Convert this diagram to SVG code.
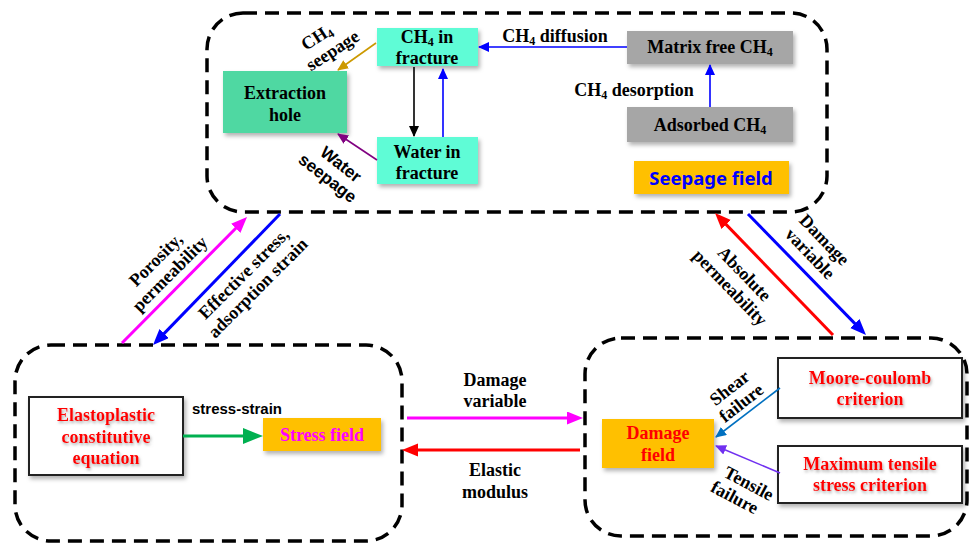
<svg xmlns="http://www.w3.org/2000/svg" width="973" height="544" viewBox="0 0 973 544">
<style>
.frame{fill:none;stroke:#000;stroke-width:3.5;stroke-dasharray:14 8}
.t{font-family:"Liberation Serif","Times New Roman",serif;font-weight:bold;font-size:18px;text-anchor:middle;fill:#000}
.s{font-family:"Liberation Sans",Arial,sans-serif;font-weight:bold;text-anchor:middle;fill:#000}
.red{fill:#FF0000}
.sub{font-size:12px}
.wbox{fill:#fff;stroke:#222;stroke-width:2}
.org{fill:#FFC000}
.aq{fill:#5EFCD6}
.gr{fill:#A6A6A6}
</style>
<defs>
<filter id="sh" x="-20%" y="-20%" width="140%" height="150%"><feDropShadow dx="2" dy="3" stdDeviation="2" flood-color="#000" flood-opacity="0.3"/></filter>
<filter id="glow" x="-10%" y="-30%" width="120%" height="170%"><feDropShadow dx="1" dy="2" stdDeviation="1.5" flood-color="#777" flood-opacity="0.6"/></filter>
<marker id="aBlueS" markerUnits="userSpaceOnUse" markerWidth="12" markerHeight="12" refX="10" refY="5" orient="auto"><path d="M0,0 L11,5 L0,10 z" fill="#0000FF"/></marker>
<marker id="aBlackS" markerUnits="userSpaceOnUse" markerWidth="12" markerHeight="12" refX="10" refY="5" orient="auto"><path d="M0,0 L11,5 L0,10 z" fill="#000"/></marker>
<marker id="aGold" markerUnits="userSpaceOnUse" markerWidth="12" markerHeight="12" refX="10" refY="5" orient="auto"><path d="M0,0 L11,5 L0,10 z" fill="#CC9900"/></marker>
<marker id="aPurp" markerUnits="userSpaceOnUse" markerWidth="12" markerHeight="12" refX="10" refY="5" orient="auto"><path d="M0,0 L11,5 L0,10 z" fill="#800080"/></marker>
<marker id="aShear" markerUnits="userSpaceOnUse" markerWidth="12" markerHeight="12" refX="10" refY="5" orient="auto"><path d="M0,0 L11,5 L0,10 z" fill="#0070C0"/></marker>
<marker id="aTens" markerUnits="userSpaceOnUse" markerWidth="12" markerHeight="12" refX="10" refY="5" orient="auto"><path d="M0,0 L11,5 L0,10 z" fill="#7030F0"/></marker>
<marker id="aMag" markerUnits="userSpaceOnUse" markerWidth="18" markerHeight="14" refX="11" refY="6.5" orient="auto"><path d="M0,0 L16,6.5 L0,13 z" fill="#FF00FF"/></marker>
<marker id="aRed" markerUnits="userSpaceOnUse" markerWidth="18" markerHeight="14" refX="11" refY="6.5" orient="auto"><path d="M0,0 L16,6.5 L0,13 z" fill="#FF0000"/></marker>
<marker id="aBlue" markerUnits="userSpaceOnUse" markerWidth="18" markerHeight="14" refX="11" refY="6.5" orient="auto"><path d="M0,0 L16,6.5 L0,13 z" fill="#0000FF"/></marker>
<marker id="aGreen" markerUnits="userSpaceOnUse" markerWidth="22" markerHeight="18" refX="14" refY="8" orient="auto"><path d="M0,0 L20,8 L0,16 z" fill="#00B050"/></marker>
</defs>

<!-- frames -->
<g id="seepage-frame"><rect class="frame" x="207" y="13" width="620" height="199" rx="36"/></g>
<g id="stress-frame"><rect class="frame" x="15" y="345" width="387" height="196" rx="36"/></g>
<g id="damage-frame"><rect class="frame" x="585" y="338" width="382" height="198" rx="36"/></g>

<!-- top nodes -->
<g id="extraction-hole"><rect x="223" y="71" width="124" height="62" fill="#4FD8A2" filter="url(#sh)"/><text class="t" x="285" y="99">Extraction</text><text class="t" x="285" y="121">hole</text></g>
<g id="ch4-fracture"><rect class="aq" x="377" y="28" width="101" height="38" filter="url(#sh)"/><text class="t" x="427" y="43">CH<tspan class="sub" dy="3">4</tspan><tspan dy="-3"> in</tspan></text><text class="t" x="427" y="64">fracture</text></g>
<g id="water-fracture"><rect class="aq" x="377" y="137" width="101" height="47" filter="url(#sh)"/><text class="t" x="427" y="158">Water in</text><text class="t" x="427" y="179">fracture</text></g>
<g id="matrix-free"><rect class="gr" x="627" y="31" width="166" height="33" filter="url(#sh)"/><text class="t" x="710" y="53">Matrix free CH<tspan class="sub" dy="3">4</tspan></text></g>
<g id="adsorbed"><rect class="gr" x="627" y="107" width="166" height="35" filter="url(#sh)"/><text class="t" x="710" y="131">Adsorbed CH<tspan class="sub" dy="3">4</tspan></text></g>
<g id="seepage-field"><rect class="org" x="634" y="161" width="155" height="33" filter="url(#sh)"/><text x="711" y="185" style="font-family:'Noto Sans','Open Sans',sans-serif;font-weight:bold;font-size:18.5px;text-anchor:middle;fill:#0000FF">Seepage field</text></g>

<!-- bottom-left nodes -->
<g id="elastoplastic"><rect class="wbox" x="29" y="397" width="154" height="78" filter="url(#sh)"/><g filter="url(#glow)"><text class="t red" x="106" y="421">Elastoplastic</text><text class="t red" x="106" y="443">constitutive</text><text class="t red" x="106" y="464">equation</text></g></g>
<g id="stress-field"><rect class="org" x="263" y="418" width="118" height="33" filter="url(#sh)"/><text class="t" x="322" y="441" style="fill:#FF00FF">Stress field</text></g>

<!-- bottom-right nodes -->
<g id="damage-field"><rect class="org" x="602" y="419" width="112" height="49" filter="url(#sh)"/><text class="t red" x="658" y="439">Damage</text><text class="t red" x="658" y="461">field</text></g>
<g id="moore-coulomb"><rect class="wbox" x="778" y="358" width="184" height="60" filter="url(#sh)"/><g filter="url(#glow)"><text class="t red" x="870" y="384">Moore-coulomb</text><text class="t red" x="870" y="405">criterion</text></g></g>
<g id="max-tensile"><rect class="wbox" x="778" y="446" width="184" height="57" filter="url(#sh)"/><g filter="url(#glow)"><text class="t red" x="870" y="470">Maximum tensile</text><text class="t red" x="870" y="491">stress criterion</text></g></g>

<!-- connectors -->
<g id="connectors" fill="none">
<line x1="627" y1="47" x2="479" y2="47" stroke="#0000FF" stroke-width="1.6" marker-end="url(#aBlueS)"/>
<line x1="710" y1="107" x2="710" y2="65" stroke="#0000FF" stroke-width="1.6" marker-end="url(#aBlueS)"/>
<line x1="414" y1="67" x2="414" y2="136" stroke="#000" stroke-width="1.6" marker-end="url(#aBlackS)"/>
<line x1="443" y1="137" x2="443" y2="69" stroke="#0000FF" stroke-width="1.6" marker-end="url(#aBlueS)"/>
<line x1="376" y1="43" x2="338" y2="70" stroke="#CC9900" stroke-width="1.6" marker-end="url(#aGold)"/>
<line x1="377" y1="160" x2="338" y2="134" stroke="#800080" stroke-width="1.6" marker-end="url(#aPurp)"/>
<line x1="122" y1="343" x2="243.5" y2="220.5" stroke="#FF00FF" stroke-width="3" marker-end="url(#aMag)"/>
<line x1="280" y1="214" x2="156.5" y2="341.4" stroke="#0000FF" stroke-width="3" marker-end="url(#aBlue)"/>
<line x1="833" y1="335" x2="718.5" y2="216.6" stroke="#FF0000" stroke-width="3" marker-end="url(#aRed)"/>
<line x1="748" y1="214" x2="862.5" y2="331.4" stroke="#0000FF" stroke-width="3" marker-end="url(#aBlue)"/>
<line x1="407" y1="418" x2="578" y2="418" stroke="#FF00FF" stroke-width="3" marker-end="url(#aMag)"/>
<line x1="580" y1="450" x2="407" y2="450" stroke="#FF0000" stroke-width="3" marker-end="url(#aRed)"/>
<line x1="183" y1="436" x2="257" y2="436" stroke="#00B050" stroke-width="3" marker-end="url(#aGreen)"/>
<line x1="780" y1="388" x2="716" y2="437" stroke="#0070C0" stroke-width="1.6" marker-end="url(#aShear)"/>
<line x1="780" y1="473" x2="716" y2="446" stroke="#7030F0" stroke-width="1.6" marker-end="url(#aTens)"/>
</g>

<!-- labels -->
<g id="labels">
<text class="t" x="555" y="42">CH<tspan class="sub" dy="3">4</tspan><tspan dy="-3"> diffusion</tspan></text>
<text class="t" x="634" y="96">CH<tspan class="sub" dy="3">4</tspan><tspan dy="-3"> desorption</tspan></text>
<g transform="translate(326,44) rotate(-33)"><text class="t" x="-4" y="-5">CH<tspan class="sub" dy="3">4</tspan></text><text class="t" x="2" y="15">seepage</text></g>
<g transform="translate(334,170) rotate(38)"><text class="s" x="2" y="-3" style="font-size:17px">Water</text><text class="s" x="0" y="16" style="font-size:17px">seepage</text></g>
<g transform="translate(162,266) rotate(-45)"><text class="t" x="0" y="-3">Porosity,</text><text class="t" x="0" y="17">permeability</text></g>
<g transform="translate(250,280) rotate(-45)"><text class="t" x="0" y="-3">Effective stress,</text><text class="t" x="0" y="17">adsorption strain</text></g>
<g transform="translate(818,246) rotate(46)"><text class="t" x="0" y="-3">Damage</text><text class="t" x="0" y="17">variable</text></g>
<g transform="translate(738,280) rotate(46)"><text class="t" x="0" y="-3">Absolute</text><text class="t" x="0" y="17">permeability</text></g>
<text class="t" x="495" y="386">Damage</text>
<text class="t" x="495" y="407">variable</text>
<text class="t" x="495" y="476">Elastic</text>
<text class="t" x="495" y="498">modulus</text>
<text class="s" x="237" y="414" style="font-size:15px">stress-strain</text>
<g transform="translate(735,395) rotate(-38)"><text class="t" x="0" y="-3">Shear</text><text class="t" x="0" y="16">failure</text></g>
<g transform="translate(742,490) rotate(28)"><text class="t" x="3" y="-3">Tensile</text><text class="t" x="-3" y="16">failure</text></g>
</g>
</svg>
